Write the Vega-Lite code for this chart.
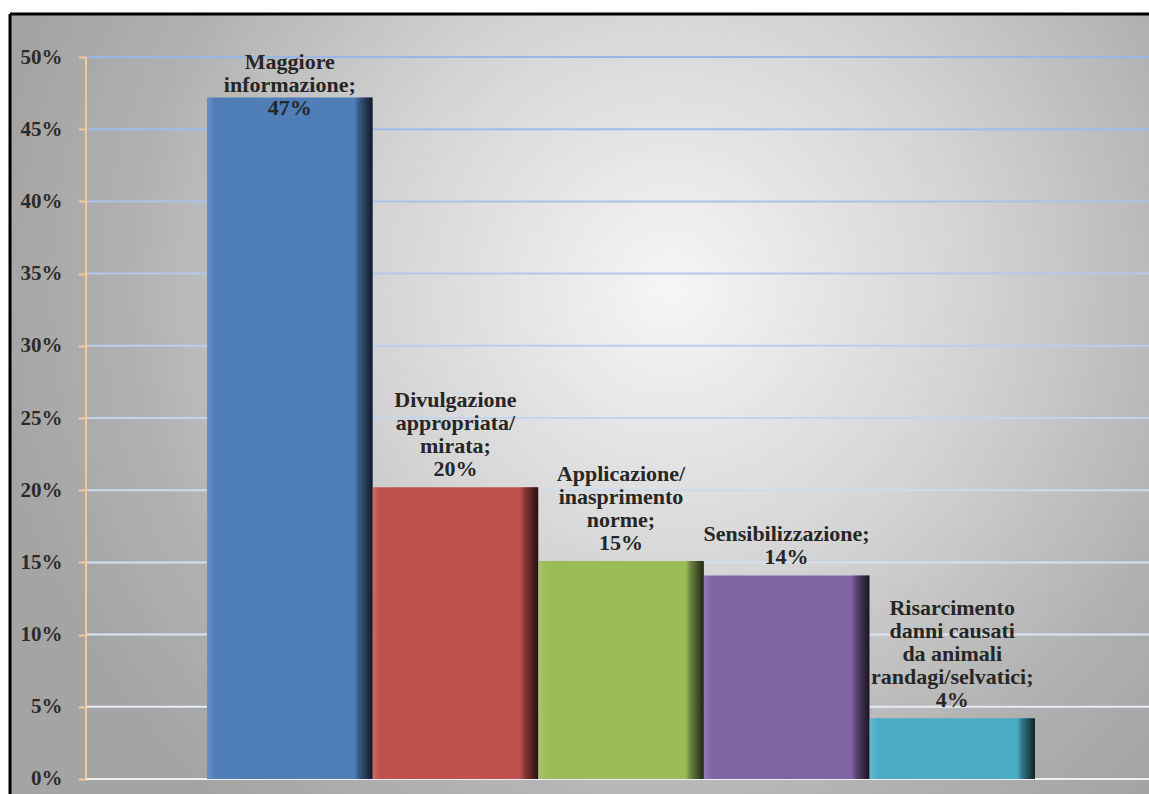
{
  "$schema": "https://vega.github.io/schema/vega-lite/v6.json",
  "width": 1139,
  "height": 780,
  "autosize": {"type": "none"},
  "padding": {"left": 10, "top": 14, "right": 0, "bottom": 0},
  "background": "white",
  "config": {
    "view": {
      "fill": {
        "gradient": "radial",
        "x1": 0.58, "y1": 0.4, "r1": 0,
        "x2": 0.58, "y2": 0.4, "r2": 0.6,
        "stops": [
          {"offset": 0, "color": "#f6f6f6"},
          {"offset": 0.45, "color": "#d3d3d3"},
          {"offset": 0.8, "color": "#b0b0b0"},
          {"offset": 1, "color": "#a4a4a4"}
        ]
      },
      "stroke": "black",
      "strokeWidth": 3,
      "strokeDash": [1139, 1919, 780, 0]
    },
    "axisY": {
      "offset": -76,
      "grid": false,
      "domain": false,
      "tickCount": 11,
      "labelExpr": "datum.value + '%'",
      "tickSize": 8,
      "tickWidth": 2,
      "tickColor": "#f2c896",
      "labelPadding": 16,
      "labelFont": "Liberation Serif",
      "labelFontWeight": "bold",
      "labelFontSize": 21,
      "labelColor": "#2b2b2b",
      "title": null
    }
  },
  "datasets": {
    "bars": [
      {"categoria": "Maggiore informazione", "valore": 47.2, "etichetta": "Maggiore\ninformazione;\n47%"},
      {"categoria": "Divulgazione appropriata/mirata", "valore": 20.2, "etichetta": "Divulgazione\nappropriata/\nmirata;\n20%"},
      {"categoria": "Applicazione/inasprimento norme", "valore": 15.1, "etichetta": "Applicazione/\ninasprimento\nnorme;\n15%"},
      {"categoria": "Sensibilizzazione", "valore": 14.1, "etichetta": "Sensibilizzazione;\n14%"},
      {"categoria": "Risarcimento danni causati da animali randagi/selvatici", "valore": 4.2, "etichetta": "Risarcimento\ndanni causati\nda animali\nrandagi/selvatici;\n4%"}
    ],
    "grid": [
      {"v": 0}, {"v": 5}, {"v": 10}, {"v": 15}, {"v": 20}, {"v": 25},
      {"v": 30}, {"v": 35}, {"v": 40}, {"v": 45}, {"v": 50}
    ],
    "asse": [{"asse": "y"}]
  },
  "layer": [
    {
      "data": {"name": "grid"},
      "mark": {"type": "rule", "strokeWidth": 2},
      "encoding": {
        "y": {"field": "v", "type": "quantitative", "title": null},
        "x": {"datum": "Maggiore informazione", "bandPosition": -0.7307, "axis": null},
        "x2": {"datum": "Risarcimento danni causati da animali randagi/selvatici", "bandPosition": 1.7},
        "stroke": {
          "field": "v", "type": "quantitative",
          "scale": {"domain": [0, 50], "range": ["#eef2f8", "#9ab6e6"]},
          "legend": null
        }
      }
    },
    {
      "data": {"name": "asse"},
      "mark": {"type": "rule", "strokeWidth": 2, "color": "#f3c99c"},
      "encoding": {
        "x": {"datum": "Maggiore informazione", "bandPosition": -0.7307, "axis": null},
        "y": {"datum": 0, "type": "quantitative", "title": null},
        "y2": {"datum": 50}
      }
    },
    {
      "data": {"name": "bars"},
      "mark": {"type": "bar"},
      "encoding": {
        "x": {
          "field": "categoria", "type": "nominal", "axis": null,
          "scale": {
            "type": "band",
            "domain": ["Maggiore informazione", "Divulgazione appropriata/mirata", "Applicazione/inasprimento norme", "Sensibilizzazione", "Risarcimento danni causati da animali randagi/selvatici"],
            "paddingInner": 0, "paddingOuter": 0.939, "align": 0.6334
          }
        },
        "y": {
          "field": "valore", "type": "quantitative", "title": null,
          "scale": {"domain": [-1.04, 52.98], "nice": false, "zero": false},
          "axis": {"values": [0, 5, 10, 15, 20, 25, 30, 35, 40, 45, 50]}
        },
        "y2": {"datum": 0},
        "color": {
          "field": "categoria", "type": "nominal", "legend": null,
          "scale": {
            "domain": ["Maggiore informazione", "Divulgazione appropriata/mirata", "Applicazione/inasprimento norme", "Sensibilizzazione", "Risarcimento danni causati da animali randagi/selvatici"],
            "range": ["#4f7db8", "#c0504d", "#9bbb59", "#8064a2", "#4bacc6"]
          }
        }
      }
    },
    {
      "data": {"name": "bars"},
      "mark": {
        "type": "bar",
        "fill": {
          "gradient": "linear", "x1": 0, "y1": 0, "x2": 1, "y2": 0,
          "stops": [
            {"offset": 0, "color": "rgba(255,255,255,0.15)"},
            {"offset": 0.05, "color": "rgba(255,255,255,0)"},
            {"offset": 0.89, "color": "rgba(0,0,0,0)"},
            {"offset": 0.92, "color": "rgba(0,0,0,0.3)"},
            {"offset": 1, "color": "rgba(0,0,0,0.8)"}
          ]
        }
      },
      "encoding": {
        "x": {"field": "categoria", "type": "nominal", "axis": null},
        "y": {"field": "valore", "type": "quantitative", "title": null},
        "y2": {"datum": 0}
      }
    },
    {
      "data": {"name": "bars"},
      "mark": {
        "type": "text", "align": "center", "baseline": "bottom",
        "dy": {"expr": "datum.valore >= 40 ? -23 : -6 - 23 * (length(split(datum.etichetta, '\\n')) - 1)"},
        "lineBreak": "\n", "lineHeight": 23,
        "font": "Liberation Serif", "fontWeight": "bold", "fontSize": 22, "color": "#262626"
      },
      "encoding": {
        "x": {"field": "categoria", "type": "nominal", "axis": null},
        "y": {"field": "valore", "type": "quantitative", "title": null},
        "text": {"field": "etichetta"}
      }
    }
  ],
  "resolve": {"scale": {"color": "independent", "stroke": "independent"}}
}
